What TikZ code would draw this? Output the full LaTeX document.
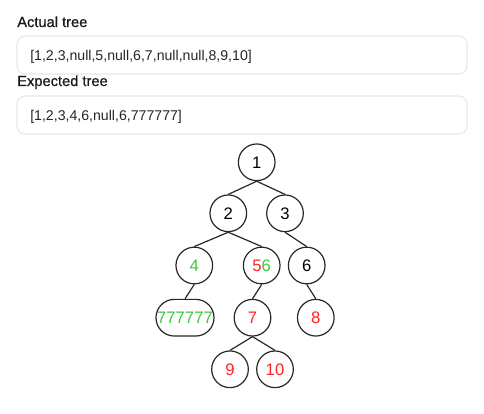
\documentclass[tikz,border=0pt]{standalone}
\usepackage{fontspec}
\setmainfont{Liberation Sans}
\newfontfamily\headfont{Liberation Sans}[FakeBold=0.7]

\definecolor{treegreen}{RGB}{60,200,60}
\definecolor{treered}{RGB}{255,35,35}
\definecolor{boxline}{RGB}{228,231,236}
\definecolor{edgegray}{RGB}{40,40,40}

\tikzset{
  heading/.style={anchor=base west,inner sep=0pt,font=\headfont\fontsize{11}{13}\selectfont,text=black!90},
  listbox/.style={draw=boxline,fill=white,rounded corners=6pt,line width=0.8pt},
  listtext/.style={anchor=base west,inner sep=0pt,font=\fontsize{10.6}{13}\selectfont,text=black!85},
  tnode/.style={circle,draw=edgegray,line width=0.9pt,minimum size=27.5pt,inner sep=0pt,font=\fontsize{12.5}{14}\selectfont},
  pill/.style={rectangle,rounded corners=13.7pt,draw=edgegray,line width=0.9pt,minimum width=43.5pt,minimum height=27.5pt,inner sep=0pt,font=\fontsize{12.5}{14}\selectfont},
  tedge/.style={edgegray,line width=0.9pt}
}

\begin{document}
\begin{tikzpicture}[x=0.75pt,y=-0.75pt]
  \useasboundingbox[fill=white] (0,0) rectangle (484,413);

  \node[heading] (actualhead) at (17,27) {Actual tree};
  \draw[listbox] (17,36) rectangle (467,74);
  \node[listtext] (actuallist) at (30,61) {[1,2,3,null,5,null,6,7,null,null,8,9,10]};

  \node[heading] (expectedhead) at (17,86) {Expected tree};
  \draw[listbox] (17,96) rectangle (467,134);
  \node[listtext] (expectedlist) at (30,121) {[1,2,3,4,6,null,6,777777]};

  \node[tnode] (n1) at (256.7,162.3) {1};
  \node[tnode] (n2) at (228.3,213.3) {2};
  \node[tnode] (n3) at (285,213.3) {3};
  \node[tnode,text=treegreen] (n4) at (194.3,265.5) {4};
  \node[tnode] (n56) at (261.7,265.5) {\textcolor{treered}{5}\textcolor{treegreen}{6}};
  \node[tnode] (n6) at (306.7,265.5) {6};
  \node[pill,text=treegreen] (n777777) at (185,317.7) {777777};
  \node[tnode,text=treered] (n7) at (252.5,317.7) {7};
  \node[tnode,text=treered] (n8) at (315.8,317.7) {8};
  \node[tnode,text=treered] (n9) at (230,369.3) {9};
  \node[tnode,text=treered] (n10) at (275,369.3) {10};

  \draw[tedge] (n1.south) -- (n2.north);
  \draw[tedge] (n1.south) -- (n3.north);
  \draw[tedge] (n2.south) -- (n4.north);
  \draw[tedge] (n2.south) -- (n56.north);
  \draw[tedge] (n3.south) -- (n6.north);
  \draw[tedge] (n4.south) -- (n777777.north);
  \draw[tedge] (n56.south) -- (n7.north);
  \draw[tedge] (n6.south) -- (n8.north);
  \draw[tedge] (n7.south) -- (n9.north);
  \draw[tedge] (n7.south) -- (n10.north);
\end{tikzpicture}
\end{document}
